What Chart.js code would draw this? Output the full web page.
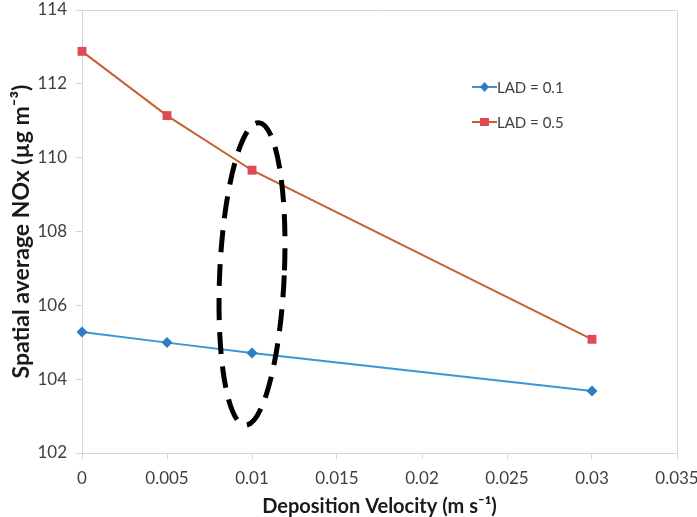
<!DOCTYPE html>
<html lang="en">
<head>
  <meta charset="UTF-8" />
  <title>Deposition velocity vs NOx</title>
  <script src="https://cdn.jsdelivr.net/npm/chart.js"></script>
  <style>
    html, body {
      margin: 0;
      padding: 0;
      background: #fff;
    }
    #wrap {
      width: 697px;
      height: 517px;
    }
  </style>
</head>
<body>
  <div id="wrap"><canvas id="noxChart" width="697" height="517"></canvas></div>

  <script>
    // data
    const depositionVelocity = [0, 0.005, 0.01, 0.03];
    const lad01 = [105.28, 104.99, 104.71, 103.68];
    const lad05 = [112.88, 111.14, 109.66, 105.08];
    const xTicks = [0, 0.005, 0.01, 0.015, 0.02, 0.025, 0.03, 0.035];
    const yTicks = [102, 104, 106, 108, 110, 112, 114];

    // dashed ellipse marking the 0.01 case (data units)
    const ringCentre = [0.0100, 106.85];
    const ringRadius = [0.0019, 4.1];

    const labelFont = "Lato, 'Open Sans', sans-serif";

    const toPoints = (xs, ys) => xs.map((x, i) => ({ x: x, y: ys[i] }));

    const extras = {
      id: 'extras',
      afterDraw(chart) {
        const ctx = chart.ctx;
        const a = chart.chartArea;
        const xs = chart.scales.x;
        const ys = chart.scales.y;

        // plot box
        ctx.save();
        ctx.strokeStyle = '#d6d6d6';
        ctx.lineWidth = 1;
        ctx.beginPath();
        ctx.moveTo(a.left, a.top + 0.5);
        ctx.lineTo(a.right + 0.5, a.top + 0.5);
        ctx.lineTo(a.right + 0.5, a.bottom);
        ctx.stroke();
        ctx.restore();

        // ellipse
        const cx = xs.getPixelForValue(ringCentre[0]);
        const cy = ys.getPixelForValue(ringCentre[1]);
        const rx = Math.abs(xs.getPixelForValue(ringCentre[0] + ringRadius[0]) - cx);
        const ry = Math.abs(ys.getPixelForValue(ringCentre[1] + ringRadius[1]) - cy);
        ctx.save();
        ctx.strokeStyle = '#000';
        ctx.lineWidth = 5;
        ctx.setLineDash([22, 12]);
        ctx.beginPath();
        ctx.ellipse(cx, cy, rx, ry, 0.045, 0, Math.PI * 2);
        ctx.stroke();
        ctx.restore();

        // legend
        const items = chart.data.datasets;
        ctx.save();
        ctx.font = '15px ' + labelFont;
        ctx.textBaseline = 'middle';
        items.forEach((ds, i) => {
          const lx = 472;
          const ly = 87 + i * 35;
          ctx.strokeStyle = ds.borderColor;
          ctx.lineWidth = 2;
          ctx.beginPath();
          ctx.moveTo(lx, ly);
          ctx.lineTo(lx + 25, ly);
          ctx.stroke();
          ctx.fillStyle = ds.pointBackgroundColor;
          ctx.beginPath();
          if (ds.pointStyle === 'rect') {
            ctx.rect(lx + 8, ly - 4, 9, 8);
          } else {
            ctx.moveTo(lx + 12.5, ly - 5);
            ctx.lineTo(lx + 17, ly);
            ctx.lineTo(lx + 12.5, ly + 5);
            ctx.lineTo(lx + 8, ly);
            ctx.closePath();
          }
          ctx.fill();
          ctx.fillStyle = '#404040';
          ctx.fillText(ds.label, lx + 25, ly + 1);
        });
        ctx.restore();
      }
    };

    // drop the extra room chart.js keeps for the end tick labels
    const noEdgePad = s => {
      s.paddingTop = 0;
      s.paddingBottom = 0;
      s.paddingLeft = 0;
      s.paddingRight = 0;
    };

    new Chart(document.getElementById('noxChart'), {
      type: 'scatter',
      data: {
        datasets: [
          {
            label: 'LAD = 0.1',
            data: toPoints(depositionVelocity, lad01),
            showLine: true,
            clip: false,
            borderColor: '#3a96d4',
            borderWidth: 2,
            pointStyle: 'rectRot',
            pointRadius: 5.5,
            pointBackgroundColor: '#2d7cc4',
            pointBorderColor: '#2d7cc4',
            pointBorderWidth: 0
          },
          {
            label: 'LAD = 0.5',
            data: toPoints(depositionVelocity, lad05),
            showLine: true,
            clip: false,
            borderColor: '#c4612f',
            borderWidth: 2,
            pointStyle: 'rect',
            pointRadius: 6.3,
            pointBackgroundColor: '#e04a55',
            pointBorderColor: '#e04a55',
            pointBorderWidth: 0
          }
        ]
      },
      options: {
        responsive: false,
        animation: false,
        layout: { padding: { top: 10, right: 20, left: 10, bottom: 0 } },
        plugins: {
          legend: { display: false },
          tooltip: { enabled: false }
        },
        scales: {
          x: {
            type: 'linear',
            min: 0,
            max: 0.035,
            afterBuildTicks: s => { s.ticks = xTicks.map(v => ({ value: v })); },
            afterFit: s => { s.height = 64; noEdgePad(s); },
            ticks: {
              color: '#404040',
              font: { family: labelFont, size: 17 },
              padding: 9,
              maxRotation: 0,
              callback: v => String(v)
            },
            grid: { drawOnChartArea: false, color: '#d6d6d6', tickLength: 6 },
            border: { color: '#d6d6d6' },
            title: {
              display: true,
              text: 'Deposition Velocity (m s\u207B\u00B9)',
              color: '#1a1a1a',
              font: { family: labelFont, size: 20, weight: 'bold', lineHeight: 1 },
              padding: { top: 0, bottom: 0 }
            }
          },
          y: {
            min: 102,
            max: 114,
            afterBuildTicks: s => { s.ticks = yTicks.map(v => ({ value: v })); },
            afterFit: s => { s.width = 72; noEdgePad(s); },
            ticks: {
              color: '#404040',
              font: { family: labelFont, size: 17 },
              padding: 9
            },
            grid: { drawOnChartArea: false, color: '#d6d6d6', tickLength: 6 },
            border: { color: '#d6d6d6' },
            title: {
              display: true,
              text: 'Spatial average NOx (\u00B5g m\u207B\u00B3)',
              color: '#1a1a1a',
              font: { family: labelFont, size: 23, weight: 'bold', lineHeight: 1 },
              padding: { top: 0, bottom: 0 }
            }
          }
        }
      },
      plugins: [extras]
    });
  </script>
</body>
</html>
